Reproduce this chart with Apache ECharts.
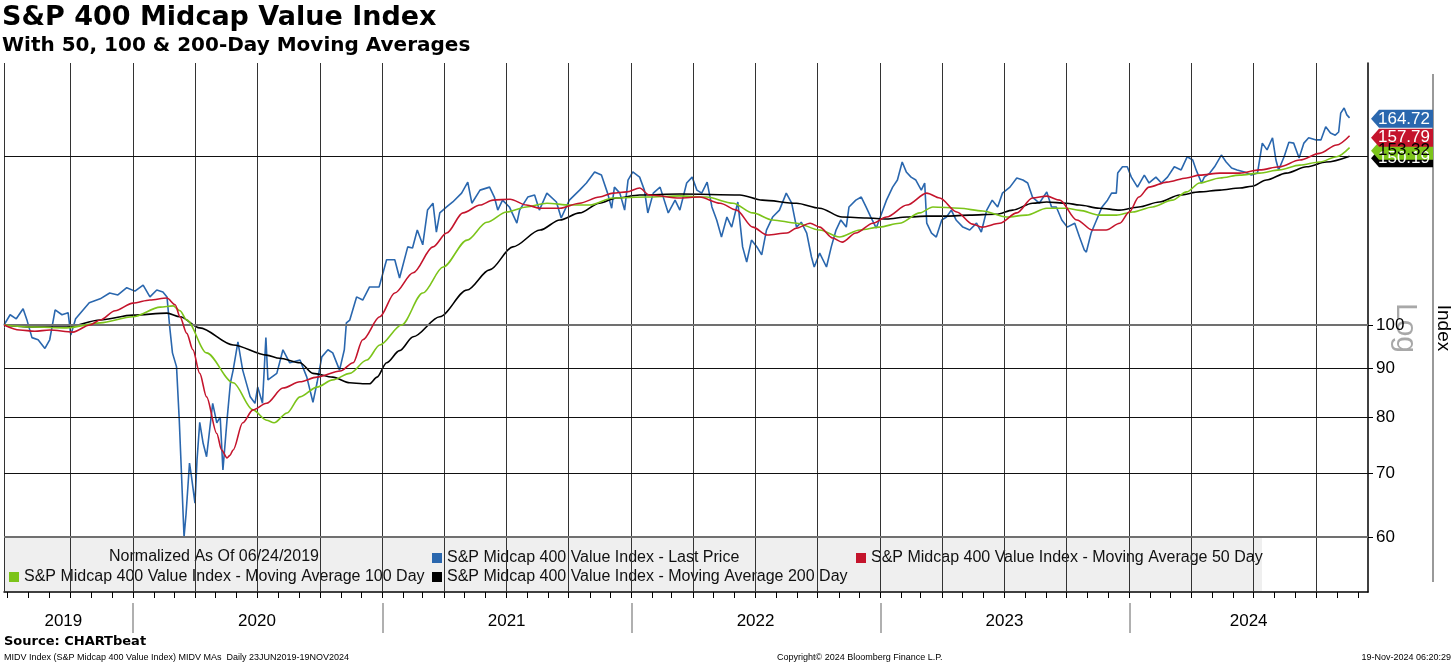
<!DOCTYPE html>
<html>
<head>
<meta charset="utf-8">
<title>S&amp;P 400 Midcap Value Index</title>
<script src="https://cdn.jsdelivr.net/npm/echarts@6.0.0/dist/echarts.min.js"></script>
<style>
  html, body { margin: 0; padding: 0; background: #fff; }
  #chart { width: 1456px; height: 666px; }
</style>
</head>
<body>
<div id="chart"></div>
<script>
// axis range
const X_MIN = '2019-06-26';
const X_MAX = '2024-12-16';
const Y_MIN = 52.55;
const Y_MAX = 188;

const yTicks = [60, 70, 80, 90, 100];
const yGrid = [60, 70, 80, 90, 100, 150];
const quarterLines = [
  '2019-06-26', '2019-10-01',
  '2020-01-01', '2020-04-01', '2020-07-01', '2020-10-01',
  '2021-01-01', '2021-04-01', '2021-07-01', '2021-10-01',
  '2022-01-01', '2022-04-01', '2022-07-01', '2022-10-01',
  '2023-01-01', '2023-04-01', '2023-07-01', '2023-10-01',
  '2024-01-01', '2024-04-01', '2024-07-01', '2024-10-01'
];
const yearStarts = ['2020-01-01', '2021-01-01', '2022-01-01', '2023-01-01', '2024-01-01'];
const yearLabelDates = ['2019-09-21', '2020-07-01', '2021-07-02', '2022-07-02', '2023-07-02', '2024-06-24'];

// S&P Midcap 400 Value Index, normalized to 100 on 06/24/2019
const priceDates = [
  '2019-06-26','2019-07-05','2019-07-14','2019-07-24','2019-07-30','2019-08-06','2019-08-15','2019-08-25',
  '2019-09-01','2019-09-09','2019-09-19','2019-09-28','2019-10-02','2019-10-09','2019-10-19','2019-10-29',
  '2019-11-14','2019-11-28','2019-12-10','2019-12-23','2020-01-04','2020-01-16','2020-01-26','2020-02-05',
  '2020-02-14','2020-02-20','2020-02-24','2020-02-28','2020-03-05','2020-03-09','2020-03-12','2020-03-16',
  '2020-03-19','2020-03-24','2020-03-27','2020-04-01','2020-04-04','2020-04-08','2020-04-13','2020-04-18',
  '2020-04-27','2020-05-03','2020-05-08','2020-05-12','2020-05-18','2020-05-23','2020-05-27','2020-06-03',
  '2020-06-10','2020-06-21','2020-06-28','2020-07-02','2020-07-09','2020-07-14','2020-07-17','2020-07-30',
  '2020-08-08','2020-08-18','2020-09-02','2020-09-12','2020-09-21','2020-09-27','2020-10-04','2020-10-13',
  '2020-10-20','2020-10-30','2020-11-06','2020-11-09','2020-11-14','2020-11-24','2020-12-03','2020-12-13',
  '2020-12-27','2021-01-07','2021-01-19','2021-01-26','2021-02-07','2021-02-14','2021-02-21','2021-03-01',
  '2021-03-08','2021-03-16','2021-03-21','2021-03-26','2021-04-05','2021-04-14','2021-04-27','2021-05-06',
  '2021-05-12','2021-05-24','2021-06-07','2021-06-14','2021-06-19','2021-06-26','2021-07-06','2021-07-17',
  '2021-07-21','2021-08-02','2021-08-12','2021-08-19','2021-08-30','2021-09-13','2021-09-20','2021-10-02',
  '2021-10-17','2021-10-27','2021-11-08','2021-11-18','2021-11-27','2021-12-03','2021-12-07','2021-12-15',
  '2021-12-22','2021-12-27','2022-01-03','2022-01-13','2022-01-20','2022-01-25','2022-02-02','2022-02-12',
  '2022-02-24','2022-03-06','2022-03-13','2022-03-23','2022-03-31','2022-04-07','2022-04-14','2022-04-22',
  '2022-04-29','2022-05-06','2022-05-13','2022-05-21','2022-05-28','2022-06-06','2022-06-13','2022-06-19',
  '2022-06-26','2022-07-04','2022-07-11','2022-07-18','2022-07-27','2022-08-06','2022-08-16','2022-08-24',
  '2022-08-31','2022-09-07','2022-09-15','2022-09-22','2022-09-26','2022-10-04','2022-10-14','2022-10-21',
  '2022-10-28','2022-11-04','2022-11-12','2022-11-16','2022-11-26','2022-12-04','2022-12-11','2022-12-18',
  '2022-12-26','2023-01-03','2023-01-10','2023-01-19','2023-01-26','2023-02-02','2023-02-08','2023-02-15',
  '2023-02-22','2023-03-02','2023-03-07','2023-03-10','2023-03-17','2023-03-24','2023-04-01','2023-04-08',
  '2023-04-15','2023-04-22','2023-05-02','2023-05-12','2023-05-22','2023-05-29','2023-06-06','2023-06-14',
  '2023-06-22','2023-06-29','2023-07-10','2023-07-20','2023-07-29','2023-08-05','2023-08-12','2023-08-22',
  '2023-09-02','2023-09-09','2023-09-16','2023-09-24','2023-10-02','2023-10-13','2023-10-20','2023-10-27',
  '2023-10-30','2023-11-06','2023-11-14','2023-11-22','2023-11-30','2023-12-06','2023-12-13','2023-12-15',
  '2023-12-22','2023-12-29','2024-01-04','2024-01-13','2024-01-23','2024-01-30','2024-02-09','2024-02-17',
  '2024-02-26','2024-03-07','2024-03-17','2024-03-26','2024-04-03','2024-04-08','2024-04-16','2024-04-20',
  '2024-04-28','2024-05-05','2024-05-15','2024-05-22','2024-05-30','2024-06-07','2024-06-18','2024-06-28',
  '2024-07-07','2024-07-10','2024-07-14','2024-07-21','2024-07-29','2024-08-03','2024-08-07','2024-08-15',
  '2024-08-22','2024-08-29','2024-09-06','2024-09-13','2024-09-20','2024-10-01','2024-10-08','2024-10-15',
  '2024-10-22','2024-10-29','2024-11-03','2024-11-06','2024-11-11','2024-11-15','2024-11-19'
];
const priceValues = [
  100, 102.5, 101.5, 104, 101, 97, 96.5, 94.5,
  96.5, 103.7, 102.5, 103, 97.6, 101.5, 103.5, 105.5,
  106.5, 108, 107.5, 109.4, 108.5, 110.1, 107, 108.8,
  108.3, 107, 99.5, 93.5, 90.4, 79.5, 70.5, 60,
  63.5, 71.7, 69.3, 65.1, 72.2, 79.1, 75.2, 72.8,
  82.8, 79, 80.1, 70.5, 79.5, 87, 89.7, 96,
  89.7, 84.1, 82.8, 86.1, 82.8, 97, 87.6, 89,
  94.2, 91.3, 91.9, 88.2, 83, 87, 92.6, 94.2,
  93.5, 89.7, 94.2, 100.5, 101.2, 107, 106.2, 109.6,
  109.6, 117, 117, 112, 120.7, 120.4, 125.7, 121.3,
  131.9, 134.1, 125.1, 131, 132.9, 134.5, 137.4, 141.1,
  134.1, 138.4, 139.4, 136.1, 131.9, 135.1, 132.9, 127.8,
  131.9, 136.1, 136.8, 131.9, 137.4, 134.5, 129.4, 135.1,
  138.4, 140.8, 144.6, 143.5, 137.4, 132.5, 139.4, 137.4,
  131.9, 141.8, 144.6, 142.8, 138.4, 131, 137.4, 139.4,
  131, 135.1, 131.9, 140.8, 142.8, 138.4, 137.4, 141.1,
  132.9, 128.8, 123.6, 129.7, 126.6, 134.5, 120.7, 116.4,
  122.7, 120.7, 118.4, 125.7, 129.7, 131.9, 137.4, 134.1,
  126.6, 128.1, 124.8, 117.8, 115, 118.9, 115, 120.7,
  125.7, 128.8, 126.6, 132.9, 135.1, 136.1, 132.9, 129.7,
  126.3, 131, 135.1, 139.4, 141.8, 148.1, 144.6, 142.8,
  141.8, 138.4, 140.8, 127.8, 124.8, 123.6, 128.8, 129.7,
  131.9, 128.8, 126.6, 125.7, 127.8, 125.1, 131.9, 135.1,
  132.9, 137.4, 139.4, 142.5, 141.8, 140.8, 136.1, 134.1,
  137.8, 132.9, 132.9, 128.8, 126.6, 127.8, 123.6, 119.8,
  119.2, 124.8, 128.8, 132.9, 135.1, 137.4, 137.4, 144.2,
  146.4, 146.4, 142.8, 139.4, 143.5, 140.8, 142.8, 140.8,
  142.8, 146.4, 145.3, 150, 148.8, 145.3, 140.8, 142.8,
  144.2, 146.4, 150.6, 148.1, 146, 145.3, 144.6, 143.5,
  144.2, 148.8, 155, 152.5, 157, 148.8, 145.3, 150,
  155.3, 155, 149.5, 155, 157, 156.2, 156.2, 161.2,
  158.8, 158, 159.2, 166.6, 168.7, 165.9, 164.72
];

// 50-day moving average
const ma50Dates = [
  '2019-06-26','2019-07-19','2019-08-10','2019-09-01','2019-10-05','2019-10-30','2019-11-14','2019-12-06',
  '2020-01-01','2020-01-26','2020-02-20','2020-03-03','2020-03-10','2020-03-20','2020-03-29','2020-04-08',
  '2020-04-18','2020-05-03','2020-05-10','2020-05-18','2020-05-22','2020-05-27','2020-06-10','2020-06-25',
  '2020-07-15','2020-08-08','2020-09-02','2020-09-27','2020-10-31','2020-11-19','2020-12-03','2020-12-28',
  '2021-01-19','2021-02-15','2021-03-16','2021-04-05','2021-04-29','2021-05-24','2021-06-12','2021-07-07',
  '2021-07-31','2021-08-20','2021-09-18','2021-10-17','2021-11-15','2021-12-05','2021-12-25','2022-01-13',
  '2022-01-27','2022-03-13','2022-04-11','2022-05-11','2022-06-04','2022-06-28','2022-07-19','2022-08-17',
  '2022-08-31','2022-09-20','2022-10-04','2022-10-23','2022-11-06','2022-11-26','2022-12-21','2023-01-10',
  '2023-02-09','2023-03-10','2023-03-29','2023-04-23','2023-05-16','2023-05-30','2023-06-25','2023-07-20',
  '2023-08-12','2023-09-02','2023-09-21','2023-10-16','2023-11-08','2023-11-28','2023-12-18','2024-01-01',
  '2024-01-15','2024-01-30','2024-02-25','2024-03-25','2024-04-13','2024-05-13','2024-06-11','2024-07-10',
  '2024-08-08','2024-09-07','2024-10-06','2024-10-31','2024-11-19'
];
const ma50Values = [
  100, 98.8, 98.5, 98.8, 98.3, 100, 101.2, 103.5,
  105.4, 106.2, 106.7, 105, 102, 98, 94.2, 89,
  84.1, 77, 74, 72.6, 73, 74, 79, 81.5,
  82.8, 85.9, 87.2, 88.2, 89.5, 91.3, 96.5, 102,
  108, 113.4, 120.7, 124.8, 131, 133.5, 135.1, 135.4,
  133.5, 132.5, 132.5, 134.1, 136.1, 137.4, 137.8, 139.1,
  136.8, 135.8, 136.1, 134.1, 131.9, 126.6, 124.2, 124.8,
  126.3, 127.8, 126.6, 123.3, 122.1, 124.8, 127.8, 129.7,
  133.5, 137.4, 135.8, 131.3, 127.5, 126.6, 127.8, 131,
  135.8, 136.4, 135.1, 128.8, 125.7, 125.7, 127.8, 131.3,
  136.1, 139.4, 141.1, 142.5, 143.5, 144.2, 144.2, 145.3,
  146.4, 148.8, 151.2, 154.3, 157.79
];

// 100-day moving average
const ma100Dates = [
  '2019-06-26','2019-08-07','2019-09-26','2019-11-14','2020-01-01','2020-02-10','2020-02-29','2020-03-10',
  '2020-03-20','2020-04-18','2020-05-27','2020-06-25','2020-07-15','2020-07-26','2020-08-14','2020-09-02',
  '2020-09-27','2020-10-20','2020-11-14','2020-12-09','2020-12-28','2021-01-29','2021-03-01','2021-03-31',
  '2021-05-05','2021-06-03','2021-07-02','2021-07-31','2021-08-30','2021-10-03','2021-11-01','2021-12-05',
  '2022-01-24','2022-03-13','2022-04-21','2022-05-30','2022-06-28','2022-07-27','2022-08-31','2022-10-04',
  '2022-11-02','2022-12-02','2022-12-31','2023-01-29','2023-02-28','2023-03-19','2023-04-27','2023-05-31',
  '2023-07-05','2023-08-03','2023-09-02','2023-10-01','2023-10-20','2023-11-18','2023-12-13','2024-01-06',
  '2024-02-04','2024-03-04','2024-03-25','2024-04-13','2024-05-13','2024-06-11','2024-07-10','2024-08-08',
  '2024-09-07','2024-10-06','2024-10-31','2024-11-19'
];
const ma100Values = [
  100, 99.5, 99.3, 100.5, 102, 104.4, 104.7, 103.5,
  101.2, 93.5, 87, 81.5, 79.5, 79, 80.9, 84.1,
  86.1, 87.6, 89, 91.9, 95.3, 100, 108, 115,
  122.7, 128.1, 131.3, 132.9, 134.1, 133.5, 133.5, 135.8,
  136.1, 136.5, 136.1, 134.1, 131, 128.8, 127.8, 125.7,
  123.6, 125.7, 126.6, 127.8, 131, 132.9, 132.5, 131.6,
  129.7, 130.3, 132.5, 132.5, 131.8, 130.3, 130.3, 131.3,
  132.9, 135.1, 137.8, 140.8, 142.5, 143.5, 144.2, 145.3,
  147, 148.1, 150, 153.32
];

// 200-day moving average
const ma200Dates = [
  '2019-06-26','2019-08-07','2019-09-26','2019-11-14','2020-01-01','2020-02-20','2020-03-10','2020-04-08',
  '2020-05-27','2020-07-15','2020-08-03','2020-09-02','2020-09-21','2020-10-20','2020-11-14','2020-12-03',
  '2020-12-13','2020-12-24','2021-01-07','2021-01-26','2021-02-15','2021-03-26','2021-05-05','2021-06-07',
  '2021-07-11','2021-08-20','2021-09-18','2021-10-17','2021-11-15','2021-12-10','2022-01-13','2022-03-13',
  '2022-06-09','2022-07-12','2022-08-31','2022-10-04','2022-11-06','2022-12-12','2023-01-10','2023-02-09',
  '2023-03-10','2023-04-08','2023-05-12','2023-06-20','2023-07-14','2023-08-12','2023-09-02','2023-10-01',
  '2023-10-20','2023-11-18','2023-12-18','2024-01-15','2024-02-14','2024-03-15','2024-04-13','2024-05-13',
  '2024-06-11','2024-06-29','2024-07-20','2024-08-18','2024-09-17','2024-10-16','2024-11-19'
];
const ma200Values = [
  100, 99.5, 99.5, 101.2, 102.4, 102.9, 102, 99.3,
  95.3, 93, 92.3, 91.3, 89, 88.2, 87, 86.8,
  86.8, 88.2, 91.3, 94, 97.2, 102, 108.8, 114.2,
  120.7, 125.7, 128.8, 131, 134.1, 135.8, 136.8, 137.1,
  136.8, 135.1, 134.1, 132.5, 129.7, 129.4, 129.1, 129.7,
  130, 130, 130.3, 130.6, 131.9, 134.1, 134.5, 134.1,
  133.5, 132.5, 131.9, 132.9, 134.5, 136.8, 137.8, 138.4,
  139.1, 139.7, 141.8, 144.2, 146.4, 148.1, 150.19
];

const NAME_PX = 'S&P Midcap 400 Value Index - Last Price';
const NAME_50 = 'S&P Midcap 400 Value Index - Moving Average 50 Day';
const NAME_100 = 'S&P Midcap 400 Value Index - Moving Average 100 Day';
const NAME_200 = 'S&P Midcap 400 Value Index - Moving Average 200 Day';

const BLUE = '#2a67ae';
const RED = '#c4142c';
const GREEN = '#7cc41a';
const BLACK = '#000000';
const FONT = "'Liberation Sans', Arial, sans-serif";

// dates are placed on a value axis in milliseconds
const toTime = s => {
  const p = s.split('-').map(Number);
  return new Date(p[0], p[1] - 1, p[2]).getTime();
};

// first of every month, for the small ticks under the date axis
const monthTicks = [];
for (let y = 2019; y <= 2024; y++) {
  for (let m = 0; m < 12; m++) {
    const t = new Date(y, m, 1).getTime();
    if (t > toTime(X_MIN) && t < toTime(X_MAX)) monthTicks.push(t);
  }
}

function pairs(dates, values) {
  return dates.map((d, i) => [toTime(d), values[i]]);
}

// last-value tag on the right axis
function lastTag(values, color, textColor, dy) {
  const last = values[values.length - 1];
  return {
    silent: true,
    animation: false,
    symbol: 'path://M0,9L8,0L62,0L62,18L8,18Z',
    symbolSize: [62, 18],
    symbolOffset: [34, dy],
    itemStyle: { color: color },
    label: {
      show: true,
      position: 'inside',
      offset: [2, 0],
      formatter: last.toFixed(2),
      color: textColor,
      fontSize: 17,
      fontFamily: FONT
    },
    data: [{ coord: [toTime(X_MAX), last], value: last }]
  };
}

function lineSeries(name, dates, values, color, width, z, tagText, dy) {
  return {
    name: name,
    type: 'line',
    data: pairs(dates, values),
    showSymbol: false,
    smooth: name === NAME_PX ? false : 0.3,
    smoothMonotone: 'x',
    z: z,
    lineStyle: { color: color, width: width },
    itemStyle: { color: color },
    markPoint: lastTag(values, color, tagText, dy)
  };
}

function legendItem(name, left, top) {
  return {
    data: [name],
    left: left,
    top: top,
    padding: 0,
    icon: 'rect',
    itemWidth: 10,
    itemHeight: 10,
    selectedMode: false,
    textStyle: { fontSize: 16, color: '#111', fontFamily: FONT }
  };
}

const gridLines = [];
quarterLines.forEach(d => {
  gridLines.push({ xAxis: toTime(d), lineStyle: { color: '#333', width: 1, type: 'solid' } });
});
yGrid.forEach(v => {
  const major = v === 60 || v === 100;
  gridLines.push({
    yAxis: v,
    lineStyle: { color: major ? '#707070' : '#111', width: major ? 2 : 1, type: 'solid' }
  });
});

const chart = echarts.init(document.getElementById('chart'));

chart.setOption({
  animation: false,
  backgroundColor: '#ffffff',
  textStyle: { fontFamily: FONT },
  grid: { left: 4, right: 88, top: 63, bottom: 74, containLabel: false },
  legend: [
    legendItem(NAME_PX, 432, 550),
    legendItem(NAME_50, 856, 550),
    legendItem(NAME_100, 9, 569),
    legendItem(NAME_200, 432, 569)
  ],
  xAxis: [
    {
      type: 'value',
      min: toTime(X_MIN),
      max: toTime(X_MAX),
      axisLine: { show: true, lineStyle: { color: '#000', width: 1.5 } },
      axisTick: { show: true, customValues: monthTicks, length: 6, lineStyle: { color: '#000' } },
      axisLabel: { show: false },
      splitLine: { show: false }
    },
    {
      type: 'value',
      min: toTime(X_MIN),
      max: toTime(X_MAX),
      position: 'bottom',
      offset: 11,
      axisLine: { show: false },
      axisTick: {
        show: true,
        customValues: yearStarts.map(toTime),
        length: 30,
        lineStyle: { color: '#b0b0b0', width: 2 }
      },
      axisLabel: {
        show: true,
        customValues: yearLabelDates.map(toTime),
        formatter: v => String(new Date(v).getFullYear()),
        fontSize: 17,
        color: '#000',
        margin: 10
      },
      splitLine: { show: false }
    }
  ],
  yAxis: {
    type: 'log',
    logBase: 10,
    min: Y_MIN,
    max: Y_MAX,
    position: 'right',
    axisLine: { show: true, lineStyle: { color: '#000', width: 1.5 } },
    axisTick: { show: true, customValues: yTicks, length: 5, lineStyle: { color: '#000' } },
    axisLabel: { show: true, customValues: yTicks, fontSize: 17, color: '#000', margin: 8 },
    splitLine: { show: false }
  },
  graphic: {
    elements: [
      {
        type: 'rect', z: 0, silent: true,
        shape: { x: 4, y: 538, width: 1258, height: 53 },
        style: { fill: '#efefef' }
      },
      {
        type: 'text', x: 2, y: 18,
        style: { text: 'S&P 400 Midcap Value Index', font: "bold 27px 'DejaVu Sans'", fill: '#000', textVerticalAlign: 'middle' }
      },
      {
        type: 'text', x: 2, y: 46,
        style: { text: 'With 50, 100 & 200-Day Moving Averages', font: "bold 20px 'DejaVu Sans'", fill: '#000', textVerticalAlign: 'middle' }
      },
      {
        type: 'text', x: 214, y: 557,
        style: { text: 'Normalized As Of 06/24/2019', font: "16px 'Liberation Sans'", fill: '#111', textAlign: 'center', textVerticalAlign: 'middle' }
      },
      {
        type: 'text', x: 1405, y: 328, rotation: -Math.PI / 2,
        style: { text: 'Log', font: "30px 'Liberation Sans'", fill: '#a8a8a8', textAlign: 'center', textVerticalAlign: 'middle' }
      },
      {
        type: 'text', x: 1443, y: 328, rotation: -Math.PI / 2,
        style: { text: 'Index', font: "19px 'Liberation Sans'", fill: '#000', textAlign: 'center', textVerticalAlign: 'middle' }
      },
      {
        type: 'line', silent: true,
        shape: { x1: 1433, y1: 74, x2: 1433, y2: 582 },
        style: { stroke: '#777', lineWidth: 1.5 }
      },
      {
        type: 'text', x: 4, y: 642,
        style: { text: 'Source: CHARTbeat', font: "bold 13px 'DejaVu Sans'", fill: '#000', textVerticalAlign: 'middle' }
      },
      {
        type: 'text', x: 4, y: 658,
        style: { text: 'MIDV Index (S&P Midcap 400 Value Index) MIDV MAs  Daily 23JUN2019-19NOV2024', font: "9px 'Liberation Sans'", fill: '#000', textVerticalAlign: 'middle' }
      },
      {
        type: 'text', x: 777, y: 658,
        style: { text: 'Copyright\u00a9 2024 Bloomberg Finance L.P.', font: "9px 'Liberation Sans'", fill: '#000', textVerticalAlign: 'middle' }
      },
      {
        type: 'text', x: 1451, y: 658,
        style: { text: '19-Nov-2024 06:20:29', font: "9px 'Liberation Sans'", fill: '#000', textAlign: 'right', textVerticalAlign: 'middle' }
      }
    ]
  },
  series: [
    {
      name: 'grid',
      type: 'line',
      data: [],
      z: 1,
      silent: true,
      markLine: {
        silent: true,
        animation: false,
        symbol: ['none', 'none'],
        label: { show: false },
        data: gridLines
      }
    },
    lineSeries(NAME_PX, priceDates, priceValues, BLUE, 1.6, 3, '#fff', 1),
    lineSeries(NAME_200, ma200Dates, ma200Values, BLACK, 1.6, 4, '#fff', 2),
    lineSeries(NAME_100, ma100Dates, ma100Values, GREEN, 1.6, 5, '#000', 3),
    lineSeries(NAME_50, ma50Dates, ma50Values, RED, 1.6, 6, '#fff', 2)
  ]
});

window.addEventListener('resize', () => chart.resize());
</script>
</body>
</html>
